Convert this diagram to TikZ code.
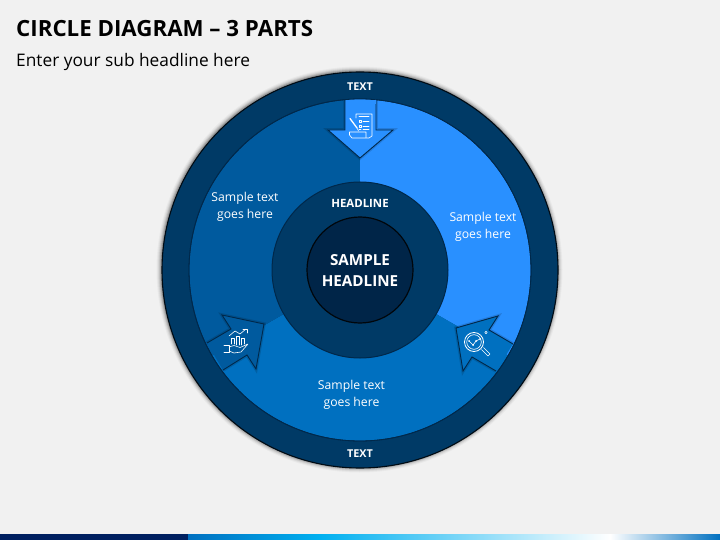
\documentclass[tikz,border=0pt]{standalone}
\usepackage{fontspec}
\setmainfont{Open Sans}
\usetikzlibrary{shadings}
\definecolor{bgc}{HTML}{F1F1F1}
\definecolor{ringc}{HTML}{003A66}
\definecolor{leftc}{HTML}{005A9E}
\definecolor{rightc}{HTML}{2990FF}
\definecolor{botc}{HTML}{0070C0}
\definecolor{midc}{HTML}{003A66}
\definecolor{corec}{HTML}{002548}
\definecolor{edgec}{HTML}{00284A}
\definecolor{barc}{HTML}{002060}
\definecolor{barm}{HTML}{00B0F0}
\tikzset{
  lab/.style={text=white,align=center,font=\fontsize{12.2}{17.5}\selectfont},
  caps/.style={text=white,align=center,font=\fontsize{11.4}{14}\selectfont\bfseries},
  arrowshape/.style={draw=edgec,line width=0.9pt,line join=miter},
  arrowglow/.style={draw=black,opacity=0.14,line width=3.5pt,line join=miter},
  ico/.style={draw=white,line width=0.6pt,fill=none,line cap=round,line join=round}
}
\begin{document}
\begin{tikzpicture}[x=1pt,y=-1pt]
\useasboundingbox (0,0) rectangle (720,540);
\fill[bgc] (0,0) rectangle (720,540);
% bottom bar
\fill[barc] (0,534) rectangle (188,540);
\shade[left color=botc,right color=barm] (188,534) rectangle (320,540);
\shade[left color=barm,right color=white] (320,534) rectangle (610,540);
\shade[left color=white,right color=botc] (610,534) rectangle (720,540);
% titles
\node[anchor=base west,inner sep=0pt,font=\fontsize{22.3}{26}\selectfont\bfseries,text=black] (title) at (16,37) {CIRCLE DIAGRAM – 3 PARTS};
\node[anchor=base west,inner sep=0pt,font=\fontsize{17.3}{20}\selectfont,text=black] (sub) at (16,66.5) {Enter your sub headline here};
% soft shadow
\foreach \r/\o in {203/0.03,202/0.05,201/0.08,200/0.12,199/0.16}{
  \fill[black,opacity=\o] (359.5,269.5) circle (\r);
}
% rings
\coordinate (c) at (360,270);
\fill[ringc] (c) circle (198);
\draw[black!80!ringc,line width=1.1pt] (c) circle (198);
% sectors
\fill[rightc] (c) -- (360,99) arc[start angle=-90,end angle=30,radius=171] -- cycle;
\fill[botc] (c) -- (508.1,355.5) arc[start angle=30,end angle=150,radius=171] -- cycle;
\fill[leftc] (c) -- (211.9,355.5) arc[start angle=150,end angle=270,radius=171] -- cycle;
\draw[edgec,line width=0.8pt] (c) circle (171);
% arrows
\begin{scope}
\clip (c) circle (171);
\draw[arrowglow] (345,99) -- (345,130) -- (328,130) -- (360,158) -- (393,130) -- (376,130) -- (376,99);
\draw[arrowshape,fill=rightc] (345,99) -- (345,130) -- (328,130) -- (360,158) -- (393,130) -- (376,130) -- (376,99);
\draw[arrowglow] (207,343) -- (231,329) -- (222,315) -- (264,324) -- (256,369) -- (247,355) -- (223,370);
\draw[arrowshape,fill=leftc] (207,343) -- (231,329) -- (222,315) -- (264,324) -- (256,369) -- (247,355) -- (223,370);
\draw[arrowglow] (513,344) -- (489,330) -- (498,316) -- (456,328) -- (463,371) -- (472,357) -- (496,371);
\draw[arrowshape,fill=botc] (513,344) -- (489,330) -- (498,316) -- (456,328) -- (463,371) -- (472,357) -- (496,371);
\end{scope}
\draw[edgec,line width=0.8pt] (c) circle (171);
\fill[rightc] (345.5,100) rectangle (375.5,104);
% mid circles
\fill[midc] (c) circle (88);
\draw[edgec,line width=1pt] (c) circle (88);
\fill[corec] (c) circle (53);
\draw[black!85!corec,line width=1.2pt] (c) circle (53);
% labels
\node[caps,font=\fontsize{10.8}{14}\selectfont\bfseries] (t1) at (360,87) {TEXT};
\node[caps,font=\fontsize{10.8}{14}\selectfont\bfseries] (t2) at (360,454) {TEXT};
\node[caps] (hl) at (360,203.5) {HEADLINE};
\node[text=white,align=center,font=\fontsize{15.2}{21}\selectfont\bfseries] (core) at (360,270) {SAMPLE\\HEADLINE};
\node[lab] (s1) at (245,207) {Sample text\\goes here};
\node[lab] (s2) at (483,227) {Sample text\\goes here};
\node[lab] (s3) at (351.5,395) {Sample text\\goes here};
% icon: document
\draw[ico] (356,118) -- (356,114) -- (372,114) -- (372,136) -- (369,138) -- (352,138) -- (349.5,135) -- (349.5,132) -- (366,132) -- (366,137);
\draw[ico] (359,116.5) -- (369,116.5);
\draw[ico] (359,120.5) rectangle (361,122.5);
\draw[ico] (363,121.5) -- (369,121.5);
\draw[ico] (359,125.5) rectangle (361,127);
\draw[ico] (363,126) -- (369,126);
\draw[ico] (359,129.5) -- (361,129.5) (363,129.5) -- (369,129.5);
\draw[ico,line width=1.3pt] (350,118.5) -- (357,128);
\draw[ico] (357,128) -- (358.5,131);
% icon: chart and hand
\draw[ico] (231,344) -- (231,338) -- (234,338) -- (234,344);
\draw[ico] (236,345) -- (236,336) -- (239,336) -- (239,345);
\draw[ico] (241,345) -- (241,338) -- (244,338) -- (244,344);
\draw[ico] (229,336) -- (235,331) -- (240,334) -- (246,329);
\draw[ico] (243,329) -- (247,329) -- (247,333);
\draw[ico] (224,345) -- (229,345) -- (229,352.5) -- (224,352.5);
\draw[ico] (229,347) -- (234,345.5) -- (240,347.5) -- (248,344) -- (241,352) -- (234,353) -- (229,351);
% icon: magnifier
\draw[ico,line width=0.8pt] (474,342) circle (9.5);
\draw[ico] (474,342) circle (7.3);
\draw[ico] (469,341) -- (473,345) -- (476,341) -- (480,339);
\fill[white] (469,341) circle (1) (473,345) circle (1) (476,341) circle (1) (480,339) circle (1);
\draw[ico] (481.5,349.5) -- (488,356) -- (490,354) -- (483.5,347.5);
\draw[ico] (486,332.5) circle (1.2);
\end{tikzpicture}
\end{document}
